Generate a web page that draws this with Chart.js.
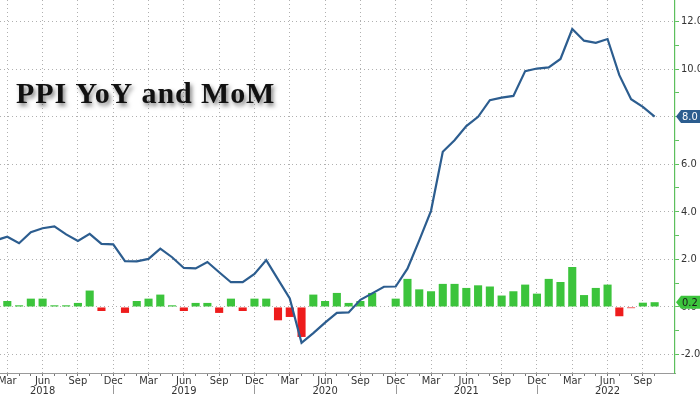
<!DOCTYPE html>
<html><head><meta charset="utf-8">
<script src="https://cdn.jsdelivr.net/npm/chart.js@4.4.1/dist/chart.umd.min.js"></script>
<style>html,body{margin:0;padding:0;background:#fff;overflow:hidden}canvas{display:block}</style>
</head><body>
<canvas id="c" width="700" height="394"></canvas>
<script>
const TITLE = 'PPI YoY and MoM';
const months = [
  '2018-02','2018-03','2018-04','2018-05','2018-06','2018-07','2018-08','2018-09','2018-10','2018-11','2018-12',
  '2019-01','2019-02','2019-03','2019-04','2019-05','2019-06','2019-07','2019-08','2019-09','2019-10','2019-11','2019-12',
  '2020-01','2020-02','2020-03','2020-04','2020-05','2020-06','2020-07','2020-08','2020-09','2020-10','2020-11','2020-12',
  '2021-01','2021-02','2021-03','2021-04','2021-05','2021-06','2021-07','2021-08','2021-09','2021-10','2021-11','2021-12',
  '2022-01','2022-02','2022-03','2022-04','2022-05','2022-06','2022-07','2022-08','2022-09','2022-10'
];
const yoy = [
  2.8, 2.95, 2.68, 3.14, 3.31, 3.39, 3.05, 2.77, 3.07, 2.65, 2.63,
  1.93, 1.92, 2.02, 2.45, 2.09, 1.64, 1.62, 1.89, 1.46, 1.04, 1.04, 1.39,
  1.97, 1.16, 0.36, -1.51, -1.10, -0.66, -0.25, -0.23, 0.30, 0.57, 0.85, 0.86,
  1.61, 2.80, 4.04, 6.52, 7.01, 7.60, 7.99, 8.69, 8.80, 8.87, 9.91, 10.02,
  10.07, 10.42, 11.68, 11.19, 11.10, 11.26, 9.74, 8.73, 8.41, 8.0
];
const mom = [
  0.2, 0.25, 0.07, 0.35, 0.35, 0.07, 0.07, 0.17, 0.69, -0.17, 0.02,
  -0.25, 0.25, 0.35, 0.52, 0.07, -0.17, 0.17, 0.17, -0.25, 0.35, -0.17, 0.35,
  0.35, -0.56, -0.42, -1.26, 0.52, 0.25, 0.59, 0.17, 0.25, 0.59, 0.02, 0.35,
  1.18, 0.74, 0.66, 0.97, 0.97, 0.80, 0.91, 0.86, 0.48, 0.66, 0.94, 0.56,
  1.18, 1.05, 1.68, 0.50, 0.80, 0.94, -0.39, -0.05, 0.18, 0.2
];
const monthNames = ['Jan','Feb','Mar','Apr','May','Jun','Jul','Aug','Sep','Oct','Nov','Dec'];
const yTickValues = [-2,-1,0,1,2,3,4,5,6,7,8,9,10,11,12];

const FONT = "'Liberation Sans Narrow','DejaVu Sans Condensed','Liberation Sans',sans-serif";
const GREEN = '#3cc43c', RED = '#ee1c1c', BLUE = '#2c5d8f', AXISGREEN = '#5cbf5c', GRID = '#b0b0b0';

function monthOf(i){ return +months[i].split('-')[1] - 1; }
function yearOf(i){ return months[i].split('-')[0]; }

const overlay = {
  id: 'overlay',
  afterDraw(chart) {
    const ctx = chart.ctx, xs = chart.scales.x, ys = chart.scales.y, H = chart.height;
    ctx.save();
    ctx.strokeStyle = '#999'; ctx.lineWidth = 1;
    months.forEach((m, i) => {
      if (monthOf(i) === 11) {
        const x = Math.round(xs.getPixelForValue(i)) + 0.5;
        ctx.beginPath(); ctx.moveTo(x, xs.top + 12); ctx.lineTo(x, H); ctx.stroke();
      }
    });
    ctx.restore();
    ctx.save();
    ctx.font = "bold 30px 'Liberation Serif','DejaVu Serif',serif";
    if ('letterSpacing' in ctx) ctx.letterSpacing = '0.9px';
    ctx.fillStyle = '#111';
    ctx.textBaseline = 'alphabetic';
    ctx.shadowColor = 'rgba(0,0,0,0.5)';
    ctx.shadowBlur = 4; ctx.shadowOffsetX = 2; ctx.shadowOffsetY = 3;
    ctx.fillText(TITLE, 16, 103);
    ctx.restore();
    const tag = (v, bg, fg) => {
      const y = ys.getPixelForValue(v), x = ys.left + 1, h = 13, tip = 5, r = chart.width;
      ctx.save();
      ctx.fillStyle = bg;
      ctx.beginPath();
      ctx.moveTo(x, y); ctx.lineTo(x + tip, y - h / 2); ctx.lineTo(r, y - h / 2);
      ctx.lineTo(r, y + h / 2); ctx.lineTo(x + tip, y + h / 2); ctx.closePath(); ctx.fill();
      ctx.fillStyle = fg; ctx.font = "11px " + FONT; ctx.textBaseline = 'middle'; ctx.textAlign = 'left';
      ctx.fillText(v.toFixed(1), x + tip + 1, y + 0.5);
      ctx.restore();
    };
    tag(yoy[yoy.length - 1], BLUE, '#fff');
    tag(mom[mom.length - 1], GREEN, '#1a1a1a');
  }
};

new Chart(document.getElementById('c'), {
  data: {
    datasets: [
      {
        type: 'line', label: 'PPI YoY', order: 0,
        data: yoy.map((v, i) => ({x: i, y: v})),
        borderColor: BLUE, borderWidth: 2.2, pointRadius: 0, tension: 0, fill: false
      },
      {
        type: 'bar', label: 'PPI MoM', order: 1,
        data: mom.map((v, i) => ({x: i, y: v})),
        backgroundColor: mom.map(v => v < 0 ? RED : GREEN),
        borderWidth: 0, barPercentage: 0.86, categoryPercentage: 0.8
      }
    ]
  },
  options: {
    responsive: false, animation: false,
    layout: {padding: 0},
    plugins: {legend: {display: false}, tooltip: {enabled: false}, title: {display: false}},
    scales: {
      x: {
        type: 'linear', position: 'bottom', bounds: 'data', offset: false,
        min: 0.38, max: 57.73,
        afterBuildTicks: s => { s.ticks = months.map((m, i) => ({value: i})); },
        afterFit: s => { s.height = 21; s.paddingLeft = 0; s.paddingRight = 0; },
        ticks: {
          autoSkip: false, maxRotation: 0, padding: 0, color: '#333',
          font: {family: FONT, size: 11, lineHeight: 0.9},
          callback: (v) => {
            const mi = monthOf(v);
            if (mi === 5) return [monthNames[mi], yearOf(v)];
            if (mi === 2 || mi === 8 || mi === 11) return monthNames[mi];
            return '';
          }
        },
        grid: {
          offset: false,
          color: c => (c.tick && (monthOf(c.tick.value) % 3 === 2)) ? GRID : 'rgba(0,0,0,0)',
          lineWidth: 1, drawTicks: true, tickLength: 3, tickColor: '#777', tickWidth: 1
        },
        border: {display: true, color: '#999', width: 1, dash: [1, 3]}
      },
      y: {
        type: 'linear', position: 'right', min: -2.775, max: 12.9, bounds: 'data',
        afterBuildTicks: s => { s.ticks = yTickValues.map(v => ({value: v})); },
        afterFit: s => { s.width = 25; s.paddingTop = 0; s.paddingBottom = 0; },
        ticks: {
          autoSkip: false, padding: 2, color: '#333',
          font: {family: FONT, size: 11},
          callback: v => (v % 2 === 0) ? v.toFixed(1) : ''
        },
        grid: {
          color: c => (c.tick && c.tick.value % 2 === 0) ? GRID : 'rgba(0,0,0,0)',
          lineWidth: 1, drawTicks: true, tickLength: 4, tickColor: AXISGREEN, tickWidth: 1
        },
        border: {display: true, color: AXISGREEN, width: 1.2, dash: [1, 3]}
      }
    }
  },
  plugins: [overlay]
});
</script>
</body></html>
